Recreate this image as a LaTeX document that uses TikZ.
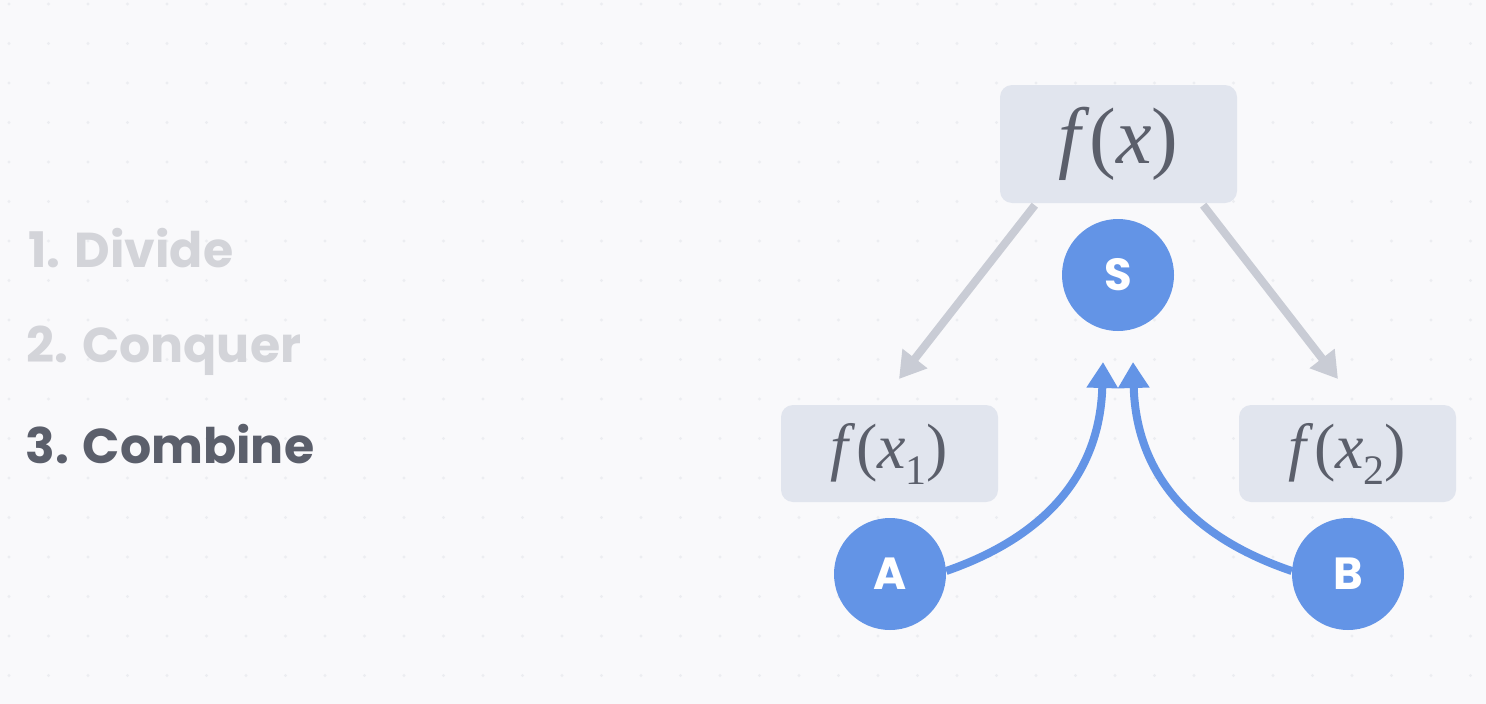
\documentclass[tikz,border=0pt]{standalone}
\usepackage{fontspec}
\setmainfont{Poppins}
\newfontfamily\mathserif{Liberation Serif}
\usetikzlibrary{arrows.meta}
\definecolor{bgc}{HTML}{F9F9FB}
\definecolor{dotc}{HTML}{ECEDF1}
\definecolor{boxc}{HTML}{E1E5EE}
\definecolor{txtc}{HTML}{5B5F6B}
\definecolor{fadec}{HTML}{D3D4D9}
\definecolor{bluec}{HTML}{6394E6}
\definecolor{greyarr}{HTML}{C9CCD5}
\tikzset{
  fbox/.style={fill=boxc, rounded corners=12pt, draw=none, text=txtc},
  bigf/.style={font=\mathserif\fontsize{80}{82}\selectfont},
  smallf/.style={font=\mathserif\fontsize{64}{66}\selectfont},
  circ/.style={circle, fill=bluec, minimum size=112pt, inner sep=0pt, text=white, font=\bfseries\fontsize{45}{47}\selectfont},
  step label/.style={anchor=base west, font=\bfseries\fontsize{49}{52}\selectfont},
  greyarrow/.style={draw=greyarr, line width=8pt, -{Triangle[length=26pt,width=30pt]}},
  bluearrow/.style={draw=bluec, line width=8pt, -{Triangle[length=26pt,width=30pt]}},
}
\begin{document}
\begin{tikzpicture}[x=1pt,y=-1pt]
\fill[bgc] (0,0) rectangle (1486,704);
\useasboundingbox (0,0) rectangle (1486,704);
\foreach \i in {0,...,37} {
  \foreach \j in {0,...,17} {
    \fill[dotc] ({9+39.5*\i},{4+39.5*\j}) circle (1.6);
  }
}
% step labels
\node[step label, text=fadec] (s1) at (25,267) {1. Divide};
\node[step label, text=fadec] (s2) at (23,362) {2. Conquer};
\node[step label, text=txtc] (s3) at (22,463) {3. Combine};
% boxes
\node[fbox, minimum width=237pt, minimum height=118pt, bigf] (top) at (1118.5,144) {\itshape f\/\upshape(\itshape x\/\upshape)};
\node[fbox, minimum width=217pt, minimum height=97pt, smallf] (left) at (889.5,453.5) {\itshape f\/\upshape(\itshape x\/\upshape\raisebox{-0.25em}{\fontsize{42}{42}\selectfont 1})};
\node[fbox, minimum width=217pt, minimum height=97pt, smallf] (right) at (1347.5,453.5) {\itshape f\/\upshape(\itshape x\/\upshape\raisebox{-0.25em}{\fontsize{42}{42}\selectfont 2})};
% circles
\node[circ] (S) at (1118,275) {S};
\node[circ] (A) at (890,574) {A};
\node[circ] (B) at (1348,574) {B};
% coordinates for arrow tips
\coordinate (tl) at (899,379);
\coordinate (tr) at (1338,379);
\coordinate (ta) at (1103,362);
\coordinate (tb) at (1133,362);
% grey arrows
\draw[greyarrow] (top.south west) ++(35,2) -- (tl);
\draw[greyarrow] (top.south east) ++(-34,2) -- (tr);
% blue arrows
\draw[bluearrow] (A.east) ++(0,-3) .. controls (1050,535) and (1100,470) .. (ta);
\draw[bluearrow] (B.west) ++(0,-3) .. controls (1186,535) and (1136,470) .. (tb);
\end{tikzpicture}
\end{document}
